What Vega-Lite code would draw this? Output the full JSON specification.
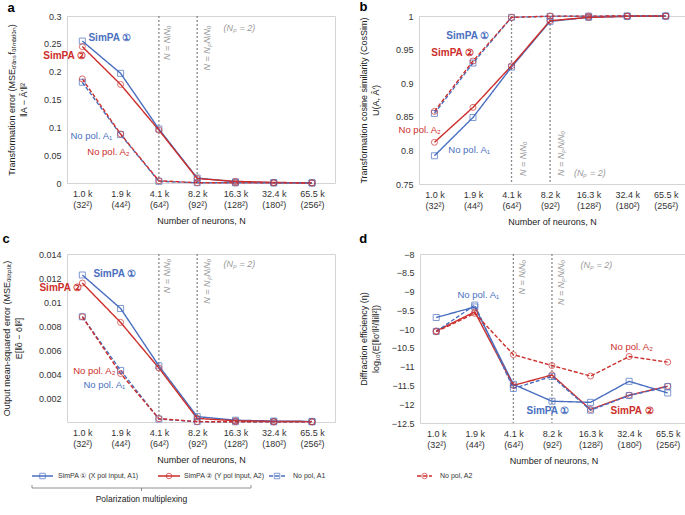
{
  "$schema": "https://vega.github.io/schema/vega-lite/v6.json",
  "padding": {"left": 1, "top": 0, "right": 0, "bottom": 0},
  "config": {
    "font": "Liberation Sans",
    "view": {"stroke": "#d4d4d4", "strokeWidth": 1},
    "axis": {"grid": false, "ticks": false, "domain": false, "labelFontSize": 9, "titleFontSize": 9, "labelColor": "#333", "titleColor": "#222", "titleFontWeight": "normal", "labelOverlap": false},
    "axisQuantitative": {"labelOverlap": false},
    "axisX": {"labelPadding": 6, "labelLineHeight": 11, "titlePadding": 7, "labelAngle": 0},
    "axisY": {"labelPadding": 6, "titlePadding": 15, "titleLineHeight": 12, "labelOverlap": false, "labelBound": false},
    "title": {"anchor": "start", "frame": "bounds", "fontSize": 13, "fontWeight": "bold", "color": "#000"},
    "concat": {"spacing": 22}
  },
  "datasets": {
    "main": [
      {"p":"a","s":"S1","i":0,"v":0.255},{"p":"a","s":"S1","i":1,"v":0.197},{"p":"a","s":"S1","i":2,"v":0.097},{"p":"a","s":"S1","i":3,"v":0.009},{"p":"a","s":"S1","i":4,"v":0.002},{"p":"a","s":"S1","i":5,"v":0.0005},{"p":"a","s":"S1","i":6,"v":0.0002},
      {"p":"a","s":"S2","i":0,"v":0.245},{"p":"a","s":"S2","i":1,"v":0.177},{"p":"a","s":"S2","i":2,"v":0.095},{"p":"a","s":"S2","i":3,"v":0.008},{"p":"a","s":"S2","i":4,"v":0.003},{"p":"a","s":"S2","i":5,"v":0.001},{"p":"a","s":"S2","i":6,"v":0.0003},
      {"p":"a","s":"N1","i":0,"v":0.181},{"p":"a","s":"N1","i":1,"v":0.087},{"p":"a","s":"N1","i":2,"v":0.003},{"p":"a","s":"N1","i":3,"v":0.0005},{"p":"a","s":"N1","i":4,"v":0.0003},{"p":"a","s":"N1","i":5,"v":0.0002},{"p":"a","s":"N1","i":6,"v":0.0001},
      {"p":"a","s":"N2","i":0,"v":0.187},{"p":"a","s":"N2","i":1,"v":0.088},{"p":"a","s":"N2","i":2,"v":0.004},{"p":"a","s":"N2","i":3,"v":0.0006},{"p":"a","s":"N2","i":4,"v":0.0003},{"p":"a","s":"N2","i":5,"v":0.0002},{"p":"a","s":"N2","i":6,"v":0.0001},
      {"p":"b","s":"S1","i":0,"v":0.792},{"p":"b","s":"S1","i":1,"v":0.849},{"p":"b","s":"S1","i":2,"v":0.924},{"p":"b","s":"S1","i":3,"v":0.992},{"p":"b","s":"S1","i":4,"v":0.998},{"p":"b","s":"S1","i":5,"v":0.9995},{"p":"b","s":"S1","i":6,"v":0.9998},
      {"p":"b","s":"S2","i":0,"v":0.812},{"p":"b","s":"S2","i":1,"v":0.864},{"p":"b","s":"S2","i":2,"v":0.926},{"p":"b","s":"S2","i":3,"v":0.993},{"p":"b","s":"S2","i":4,"v":0.998},{"p":"b","s":"S2","i":5,"v":0.9995},{"p":"b","s":"S2","i":6,"v":0.9998},
      {"p":"b","s":"N1","i":0,"v":0.855},{"p":"b","s":"N1","i":1,"v":0.930},{"p":"b","s":"N1","i":2,"v":0.998},{"p":"b","s":"N1","i":3,"v":0.9995},{"p":"b","s":"N1","i":4,"v":0.9998},{"p":"b","s":"N1","i":5,"v":1.0},{"p":"b","s":"N1","i":6,"v":1.0},
      {"p":"b","s":"N2","i":0,"v":0.858},{"p":"b","s":"N2","i":1,"v":0.933},{"p":"b","s":"N2","i":2,"v":0.998},{"p":"b","s":"N2","i":3,"v":0.9998},{"p":"b","s":"N2","i":4,"v":0.9998},{"p":"b","s":"N2","i":5,"v":1.0},{"p":"b","s":"N2","i":6,"v":1.0},
      {"p":"c","s":"S1","i":0,"v":0.01225},{"p":"c","s":"S1","i":1,"v":0.00946},{"p":"c","s":"S1","i":2,"v":0.00468},{"p":"c","s":"S1","i":3,"v":0.00045},{"p":"c","s":"S1","i":4,"v":0.00015},{"p":"c","s":"S1","i":5,"v":0.00008},{"p":"c","s":"S1","i":6,"v":0.00005},
      {"p":"c","s":"S2","i":0,"v":0.01158},{"p":"c","s":"S2","i":1,"v":0.0083},{"p":"c","s":"S2","i":2,"v":0.0045},{"p":"c","s":"S2","i":3,"v":0.0003},{"p":"c","s":"S2","i":4,"v":0.0001},{"p":"c","s":"S2","i":5,"v":0.00005},{"p":"c","s":"S2","i":6,"v":0.00003},
      {"p":"c","s":"N1","i":0,"v":0.00877},{"p":"c","s":"N1","i":1,"v":0.0043},{"p":"c","s":"N1","i":2,"v":0.00025},{"p":"c","s":"N1","i":3,"v":0.00003},{"p":"c","s":"N1","i":4,"v":0.00002},{"p":"c","s":"N1","i":5,"v":0.00001},{"p":"c","s":"N1","i":6,"v":0.00001},
      {"p":"c","s":"N2","i":0,"v":0.00877},{"p":"c","s":"N2","i":1,"v":0.00404},{"p":"c","s":"N2","i":2,"v":0.00028},{"p":"c","s":"N2","i":3,"v":0.00003},{"p":"c","s":"N2","i":4,"v":0.00002},{"p":"c","s":"N2","i":5,"v":0.00001},{"p":"c","s":"N2","i":6,"v":0.00001},
      {"p":"d","s":"S1","i":0,"v":-9.69},{"p":"d","s":"S1","i":1,"v":-9.41},{"p":"d","s":"S1","i":2,"v":-11.47},{"p":"d","s":"S1","i":3,"v":-11.92},{"p":"d","s":"S1","i":4,"v":-11.95},{"p":"d","s":"S1","i":5,"v":-11.39},{"p":"d","s":"S1","i":6,"v":-11.7},
      {"p":"d","s":"S2","i":0,"v":-10.05},{"p":"d","s":"S2","i":1,"v":-9.54},{"p":"d","s":"S2","i":2,"v":-11.5},{"p":"d","s":"S2","i":3,"v":-11.22},{"p":"d","s":"S2","i":4,"v":-12.14},{"p":"d","s":"S2","i":5,"v":-11.76},{"p":"d","s":"S2","i":6,"v":-11.52},
      {"p":"d","s":"N1","i":0,"v":-10.06},{"p":"d","s":"N1","i":1,"v":-9.36},{"p":"d","s":"N1","i":2,"v":-11.58},{"p":"d","s":"N1","i":3,"v":-11.26},{"p":"d","s":"N1","i":4,"v":-12.16},{"p":"d","s":"N1","i":5,"v":-11.77},{"p":"d","s":"N1","i":6,"v":-11.53},
      {"p":"d","s":"N2","i":0,"v":-10.07},{"p":"d","s":"N2","i":1,"v":-9.58},{"p":"d","s":"N2","i":2,"v":-10.68},{"p":"d","s":"N2","i":3,"v":-10.97},{"p":"d","s":"N2","i":4,"v":-11.25},{"p":"d","s":"N2","i":5,"v":-10.73},{"p":"d","s":"N2","i":6,"v":-10.88}
    ],
    "labels": [
      {"p":"a","s":"S1","x":0.16,"y":0.26,"t":"SimPA ①"},
      {"p":"a","s":"S2","x":-1.02,"y":0.228,"t":"SimPA ②"},
      {"p":"a","s":"N1","x":-0.31,"y":0.084,"t":"No pol. A₁"},
      {"p":"a","s":"N2","x":0.13,"y":0.055,"t":"No pol. A₂"},
      {"p":"b","s":"S1","x":0.31,"y":0.97,"t":"SimPA ①"},
      {"p":"b","s":"S2","x":-0.08,"y":0.945,"t":"SimPA ②"},
      {"p":"b","s":"N2","x":-0.93,"y":0.831,"t":"No pol. A₂"},
      {"p":"b","s":"N1","x":0.36,"y":0.8,"t":"No pol. A₁"},
      {"p":"c","s":"S1","x":0.29,"y":0.01233,"t":"SimPA ①"},
      {"p":"c","s":"S2","x":-1.12,"y":0.01117,"t":"SimPA ②"},
      {"p":"c","s":"N2","x":-0.24,"y":0.00425,"t":"No pol. A₂"},
      {"p":"c","s":"N1","x":0.03,"y":0.00309,"t":"No pol. A₁"},
      {"p":"d","s":"N1","x":0.55,"y":-9.09,"t":"No pol. A₁"},
      {"p":"d","s":"N2","x":4.52,"y":-10.48,"t":"No pol. A₂"},
      {"p":"d","s":"S1","x":2.34,"y":-12.18,"t":"SimPA ①"},
      {"p":"d","s":"S2","x":4.52,"y":-12.18,"t":"SimPA ②"}
    ],
    "rules": [
      {"p":"a","x":2},{"p":"a","x":3},{"p":"b","x":2},{"p":"b","x":3},{"p":"c","x":2},{"p":"c","x":3},{"p":"d","x":2},{"p":"d","x":3}
    ],
    "vtext": [
      {"p":"a","x":2.12,"y":0.283,"t":"N = NᵢNₒ"},
      {"p":"a","x":3.14,"y":0.283,"t":"N = NₚNᵢNₒ"},
      {"p":"c","x":2.12,"y":0.0136,"t":"N = NᵢNₒ"},
      {"p":"c","x":3.14,"y":0.0136,"t":"N = NₚNᵢNₒ"},
      {"p":"d","x":2.12,"y":-8.16,"t":"N = NᵢNₒ"},
      {"p":"d","x":3.14,"y":-8.16,"t":"N = NₚNᵢNₒ"}
    ],
    "vtextb": [
      {"p":"b","x":2.2,"y":0.762,"t":"N = NᵢNₒ"},
      {"p":"b","x":3.18,"y":0.762,"t":"N = NₚNᵢNₒ"}
    ],
    "np": [
      {"p":"a","x":3.69,"y":0.278,"t":"(Nₚ = 2)"},
      {"p":"b","x":3.62,"y":0.767,"t":"(Nₚ = 2)"},
      {"p":"c","x":3.69,"y":0.01317,"t":"(Nₚ = 2)"},
      {"p":"d","x":3.74,"y":-8.29,"t":"(Nₚ = 2)"}
    ],
    "legend": [
      {"s":"S1","a":32,"b":53,"m":42.5,"tx":58,"t":"SimPA ① (X pol input, A1)"},
      {"s":"S2","a":158,"b":180,"m":169,"tx":184,"t":"SimPA ② (Y pol input, A2)"},
      {"s":"N1","a":269,"b":285,"m":277,"tx":293,"t":"No pol, A1"},
      {"s":"N2","a":417,"b":432,"m":424.5,"tx":440,"t":"No pol, A2"}
    ],
    "bracket": [
      {"a":32,"b":251,"mid":141.5,"t":"Polarization multiplexing"}
    ]
  },
  "vconcat": [
    {
      "hconcat": [
        {
          "title": {"text": "a", "offset": -3},
          "width": 268, "height": 167,
          "encoding": {
            "y": {"type": "quantitative", "scale": {"domain": [0, 0.3], "nice": false, "zero": false}, "axis": {"values": [0,0.05,0.1,0.15,0.2,0.25,0.3], "format": "~g", "labelOverlap": false}, "title": ["Transformation error (MSEₜᵣₐₙₛfₒᵣₘₐₜᵢₒₙ)", "‖A − Â′‖²"]}
          },
          "layer": [
            {"data": {"name": "rules"}, "transform": [{"filter": "datum.p == 'a'"}], "mark": {"type": "rule", "color": "#8a8a8a", "strokeDash": [2, 2], "strokeWidth": 1.3}, "encoding": {"x": {"field": "x", "type": "quantitative"}, "y": null}},
            {"data": {"name": "main"}, "transform": [{"filter": "datum.p == 'a'"}], "mark": {"type": "line", "strokeWidth": 1.4}, "encoding": {
              "x": {"field": "i", "type": "quantitative", "scale": {"domain": [-0.4, 6.6], "nice": false, "zero": false}, "axis": {"values": [0,1,2,3,4,5,6], "labelExpr": "[['1.0 k','(32²)'],['1.9 k','(44²)'],['4.1 k','(64²)'],['8.2 k','(92²)'],['16.3 k','(128²)'],['32.4 k','(180²)'],['65.5 k','(256²)']][datum.value]"}, "title": "Number of neurons, N"},
              "y": {"field": "v"},
              "color": {"field": "s", "type": "nominal", "scale": {"domain": ["S1","S2","N1","N2"], "range": ["#4a6fc0","#cc2e2b","#4a6fc0","#cc2e2b"]}, "legend": null},
              "strokeDash": {"field": "s", "type": "nominal", "scale": {"domain": ["S1","S2","N1","N2"], "range": [[1,0],[1,0],[4,2],[4,2]]}, "legend": null}
            }},
            {"data": {"name": "main"}, "transform": [{"filter": "datum.p == 'a'"}], "mark": {"type": "point", "filled": false, "size": 36, "strokeWidth": 1}, "encoding": {
              "x": {"field": "i", "type": "quantitative"},
              "y": {"field": "v"},
              "color": {"field": "s", "type": "nominal", "legend": null},
              "shape": {"field": "s", "type": "nominal", "scale": {"domain": ["S1","S2","N1","N2"], "range": ["square","circle","square","circle"]}, "legend": null}
            }},
            {"data": {"name": "labels"}, "transform": [{"filter": "datum.p == 'a' && (datum.s == 'S1' || datum.s == 'S2')"}], "mark": {"type": "text", "align": "left", "baseline": "middle", "fontSize": 10, "fontWeight": "bold"}, "encoding": {"x": {"field": "x", "type": "quantitative"}, "y": {"field": "y"}, "text": {"field": "t"}, "color": {"field": "s", "type": "nominal", "legend": null}}},
            {"data": {"name": "labels"}, "transform": [{"filter": "datum.p == 'a' && (datum.s == 'N1' || datum.s == 'N2')"}], "mark": {"type": "text", "align": "left", "baseline": "middle", "fontSize": 9.5}, "encoding": {"x": {"field": "x", "type": "quantitative"}, "y": {"field": "y"}, "text": {"field": "t"}, "color": {"field": "s", "type": "nominal", "legend": null}}},
            {"data": {"name": "vtext"}, "transform": [{"filter": "datum.p == 'a'"}], "mark": {"type": "text", "angle": 270, "align": "right", "baseline": "top", "fontSize": 9, "fontStyle": "italic", "color": "#999"}, "encoding": {"x": {"field": "x", "type": "quantitative"}, "y": {"field": "y"}, "text": {"field": "t"}}},
            {"data": {"name": "np"}, "transform": [{"filter": "datum.p == 'a'"}], "mark": {"type": "text", "align": "left", "baseline": "middle", "fontSize": 9, "fontStyle": "italic", "color": "#999"}, "encoding": {"x": {"field": "x", "type": "quantitative"}, "y": {"field": "y"}, "text": {"field": "t"}}}
          ]
        },
        {
          "title": {"text": "b", "offset": -3},
          "width": 266, "height": 168,
          "encoding": {
            "y": {"type": "quantitative", "scale": {"domain": [0.75, 1], "nice": false, "zero": false}, "axis": {"values": [0.75,0.8,0.85,0.9,0.95,1], "format": "~g", "labelOverlap": false}, "title": ["Transformation cosine similarity (CosSim)", "U(A, Â′)"]}
          },
          "layer": [
            {"data": {"name": "rules"}, "transform": [{"filter": "datum.p == 'b'"}], "mark": {"type": "rule", "color": "#8a8a8a", "strokeDash": [2, 2], "strokeWidth": 1.3}, "encoding": {"x": {"field": "x", "type": "quantitative"}, "y": null}},
            {"data": {"name": "main"}, "transform": [{"filter": "datum.p == 'b'"}], "mark": {"type": "line", "strokeWidth": 1.4}, "encoding": {
              "x": {"field": "i", "type": "quantitative", "scale": {"domain": [-0.4, 6.5], "nice": false, "zero": false}, "axis": {"values": [0,1,2,3,4,5,6], "labelExpr": "[['1.0 k','(32²)'],['1.9 k','(44²)'],['4.1 k','(64²)'],['8.2 k','(92²)'],['16.3 k','(128²)'],['32.4 k','(180²)'],['65.5 k','(256²)']][datum.value]"}, "title": "Number of neurons, N"},
              "y": {"field": "v"},
              "color": {"field": "s", "type": "nominal", "scale": {"domain": ["S1","S2","N1","N2"], "range": ["#4a6fc0","#cc2e2b","#4a6fc0","#cc2e2b"]}, "legend": null},
              "strokeDash": {"field": "s", "type": "nominal", "scale": {"domain": ["S1","S2","N1","N2"], "range": [[1,0],[1,0],[4,2],[4,2]]}, "legend": null}
            }},
            {"data": {"name": "main"}, "transform": [{"filter": "datum.p == 'b'"}], "mark": {"type": "point", "filled": false, "size": 36, "strokeWidth": 1}, "encoding": {
              "x": {"field": "i", "type": "quantitative"},
              "y": {"field": "v"},
              "color": {"field": "s", "type": "nominal", "legend": null},
              "shape": {"field": "s", "type": "nominal", "scale": {"domain": ["S1","S2","N1","N2"], "range": ["square","circle","square","circle"]}, "legend": null}
            }},
            {"data": {"name": "labels"}, "transform": [{"filter": "datum.p == 'b' && (datum.s == 'S1' || datum.s == 'S2')"}], "mark": {"type": "text", "align": "left", "baseline": "middle", "fontSize": 10, "fontWeight": "bold"}, "encoding": {"x": {"field": "x", "type": "quantitative"}, "y": {"field": "y"}, "text": {"field": "t"}, "color": {"field": "s", "type": "nominal", "legend": null}}},
            {"data": {"name": "labels"}, "transform": [{"filter": "datum.p == 'b' && (datum.s == 'N1' || datum.s == 'N2')"}], "mark": {"type": "text", "align": "left", "baseline": "middle", "fontSize": 9.5}, "encoding": {"x": {"field": "x", "type": "quantitative"}, "y": {"field": "y"}, "text": {"field": "t"}, "color": {"field": "s", "type": "nominal", "legend": null}}},
            {"data": {"name": "vtextb"}, "transform": [{"filter": "datum.p == 'b'"}], "mark": {"type": "text", "angle": 270, "align": "left", "baseline": "top", "fontSize": 9, "fontStyle": "italic", "color": "#999"}, "encoding": {"x": {"field": "x", "type": "quantitative"}, "y": {"field": "y"}, "text": {"field": "t"}}},
            {"data": {"name": "np"}, "transform": [{"filter": "datum.p == 'b'"}], "mark": {"type": "text", "align": "left", "baseline": "middle", "fontSize": 9, "fontStyle": "italic", "color": "#999"}, "encoding": {"x": {"field": "x", "type": "quantitative"}, "y": {"field": "y"}, "text": {"field": "t"}}}
          ]
        }
      ]
    },
    {
      "hconcat": [
        {
          "title": {"text": "c", "offset": 4},
          "width": 268, "height": 168,
          "encoding": {
            "y": {"type": "quantitative", "scale": {"domain": [0, 0.014], "nice": false, "zero": false}, "axis": {"values": [0.002,0.004,0.006,0.008,0.01,0.012,0.014], "format": "~g", "labelOverlap": false}, "title": ["Output mean-squared error (MSEₒᵤₜₚᵤₜ)", "E[‖ô − ō‖²]"]}
          },
          "layer": [
            {"data": {"name": "rules"}, "transform": [{"filter": "datum.p == 'c'"}], "mark": {"type": "rule", "color": "#8a8a8a", "strokeDash": [2, 2], "strokeWidth": 1.3}, "encoding": {"x": {"field": "x", "type": "quantitative"}, "y": null}},
            {"data": {"name": "main"}, "transform": [{"filter": "datum.p == 'c'"}], "mark": {"type": "line", "strokeWidth": 1.4}, "encoding": {
              "x": {"field": "i", "type": "quantitative", "scale": {"domain": [-0.4, 6.6], "nice": false, "zero": false}, "axis": {"values": [0,1,2,3,4,5,6], "labelExpr": "[['1.0 k','(32²)'],['1.9 k','(44²)'],['4.1 k','(64²)'],['8.2 k','(92²)'],['16.3 k','(128²)'],['32.4 k','(180²)'],['65.5 k','(256²)']][datum.value]"}, "title": "Number of neurons, N"},
              "y": {"field": "v"},
              "color": {"field": "s", "type": "nominal", "scale": {"domain": ["S1","S2","N1","N2"], "range": ["#4a6fc0","#cc2e2b","#4a6fc0","#cc2e2b"]}, "legend": null},
              "strokeDash": {"field": "s", "type": "nominal", "scale": {"domain": ["S1","S2","N1","N2"], "range": [[1,0],[1,0],[4,2],[4,2]]}, "legend": null}
            }},
            {"data": {"name": "main"}, "transform": [{"filter": "datum.p == 'c'"}], "mark": {"type": "point", "filled": false, "size": 36, "strokeWidth": 1}, "encoding": {
              "x": {"field": "i", "type": "quantitative"},
              "y": {"field": "v"},
              "color": {"field": "s", "type": "nominal", "legend": null},
              "shape": {"field": "s", "type": "nominal", "scale": {"domain": ["S1","S2","N1","N2"], "range": ["square","circle","square","circle"]}, "legend": null}
            }},
            {"data": {"name": "labels"}, "transform": [{"filter": "datum.p == 'c' && (datum.s == 'S1' || datum.s == 'S2')"}], "mark": {"type": "text", "align": "left", "baseline": "middle", "fontSize": 10, "fontWeight": "bold"}, "encoding": {"x": {"field": "x", "type": "quantitative"}, "y": {"field": "y"}, "text": {"field": "t"}, "color": {"field": "s", "type": "nominal", "legend": null}}},
            {"data": {"name": "labels"}, "transform": [{"filter": "datum.p == 'c' && (datum.s == 'N1' || datum.s == 'N2')"}], "mark": {"type": "text", "align": "left", "baseline": "middle", "fontSize": 9.5}, "encoding": {"x": {"field": "x", "type": "quantitative"}, "y": {"field": "y"}, "text": {"field": "t"}, "color": {"field": "s", "type": "nominal", "legend": null}}},
            {"data": {"name": "vtext"}, "transform": [{"filter": "datum.p == 'c'"}], "mark": {"type": "text", "angle": 270, "align": "right", "baseline": "top", "fontSize": 9, "fontStyle": "italic", "color": "#999"}, "encoding": {"x": {"field": "x", "type": "quantitative"}, "y": {"field": "y"}, "text": {"field": "t"}}},
            {"data": {"name": "np"}, "transform": [{"filter": "datum.p == 'c'"}], "mark": {"type": "text", "align": "left", "baseline": "middle", "fontSize": 9, "fontStyle": "italic", "color": "#999"}, "encoding": {"x": {"field": "x", "type": "quantitative"}, "y": {"field": "y"}, "text": {"field": "t"}}}
          ]
        },
        {
          "title": {"text": "d", "offset": 4},
          "width": 267, "height": 169,
          "encoding": {
            "y": {"type": "quantitative", "scale": {"domain": [-12.5, -8], "nice": false, "zero": false}, "axis": {"values": [-12.5,-12,-11.5,-11,-10.5,-10,-9.5,-9,-8.5,-8], "format": "~g", "labelOverlap": false, "titlePadding": 11}, "title": ["Diffraction efficiency (η)", "log₁₀(E[‖o′‖²/‖i‖²])"]}
          },
          "layer": [
            {"data": {"name": "rules"}, "transform": [{"filter": "datum.p == 'd'"}], "mark": {"type": "rule", "color": "#8a8a8a", "strokeDash": [2, 2], "strokeWidth": 1.3}, "encoding": {"x": {"field": "x", "type": "quantitative"}, "y": null}},
            {"data": {"name": "main"}, "transform": [{"filter": "datum.p == 'd'"}], "mark": {"type": "line", "strokeWidth": 1.4}, "encoding": {
              "x": {"field": "i", "type": "quantitative", "scale": {"domain": [-0.42, 6.5], "nice": false, "zero": false}, "axis": {"values": [0,1,2,3,4,5,6], "labelExpr": "[['1.0 k','(32²)'],['1.9 k','(44²)'],['4.1 k','(64²)'],['8.2 k','(92²)'],['16.3 k','(128²)'],['32.4 k','(180²)'],['65.5 k','(256²)']][datum.value]"}, "title": "Number of neurons, N"},
              "y": {"field": "v"},
              "color": {"field": "s", "type": "nominal", "scale": {"domain": ["S1","S2","N1","N2"], "range": ["#4a6fc0","#cc2e2b","#4a6fc0","#cc2e2b"]}, "legend": null},
              "strokeDash": {"field": "s", "type": "nominal", "scale": {"domain": ["S1","S2","N1","N2"], "range": [[1,0],[1,0],[4,2],[4,2]]}, "legend": null}
            }},
            {"data": {"name": "main"}, "transform": [{"filter": "datum.p == 'd'"}], "mark": {"type": "point", "filled": false, "size": 36, "strokeWidth": 1}, "encoding": {
              "x": {"field": "i", "type": "quantitative"},
              "y": {"field": "v"},
              "color": {"field": "s", "type": "nominal", "legend": null},
              "shape": {"field": "s", "type": "nominal", "scale": {"domain": ["S1","S2","N1","N2"], "range": ["square","circle","square","circle"]}, "legend": null}
            }},
            {"data": {"name": "labels"}, "transform": [{"filter": "datum.p == 'd' && (datum.s == 'S1' || datum.s == 'S2')"}], "mark": {"type": "text", "align": "left", "baseline": "middle", "fontSize": 10, "fontWeight": "bold"}, "encoding": {"x": {"field": "x", "type": "quantitative"}, "y": {"field": "y"}, "text": {"field": "t"}, "color": {"field": "s", "type": "nominal", "legend": null}}},
            {"data": {"name": "labels"}, "transform": [{"filter": "datum.p == 'd' && (datum.s == 'N1' || datum.s == 'N2')"}], "mark": {"type": "text", "align": "left", "baseline": "middle", "fontSize": 9.5}, "encoding": {"x": {"field": "x", "type": "quantitative"}, "y": {"field": "y"}, "text": {"field": "t"}, "color": {"field": "s", "type": "nominal", "legend": null}}},
            {"data": {"name": "vtext"}, "transform": [{"filter": "datum.p == 'd'"}], "mark": {"type": "text", "angle": 270, "align": "right", "baseline": "top", "fontSize": 9, "fontStyle": "italic", "color": "#999"}, "encoding": {"x": {"field": "x", "type": "quantitative"}, "y": {"field": "y"}, "text": {"field": "t"}}},
            {"data": {"name": "np"}, "transform": [{"filter": "datum.p == 'd'"}], "mark": {"type": "text", "align": "left", "baseline": "middle", "fontSize": 9, "fontStyle": "italic", "color": "#999"}, "encoding": {"x": {"field": "x", "type": "quantitative"}, "y": {"field": "y"}, "text": {"field": "t"}}}
          ]
        }
      ]
    },
    {
      "width": 618, "height": 30,
      "view": {"stroke": null},
      "layer": [
        {"data": {"name": "legend"}, "mark": {"type": "rule", "strokeWidth": 1.4}, "encoding": {
          "x": {"field": "a", "type": "quantitative", "scale": {"domain": [67, 685], "nice": false, "zero": false}, "axis": null},
          "x2": {"field": "b"},
          "y": {"datum": 26, "type": "quantitative", "scale": {"domain": [0, 30], "nice": false, "zero": false}, "axis": null},
          "color": {"field": "s", "type": "nominal", "scale": {"domain": ["S1","S2","N1","N2"], "range": ["#4a6fc0","#cc2e2b","#4a6fc0","#cc2e2b"]}, "legend": null},
          "strokeDash": {"field": "s", "type": "nominal", "scale": {"domain": ["S1","S2","N1","N2"], "range": [[1,0],[1,0],[3,2],[3,2]]}, "legend": null}
        }},
        {"data": {"name": "legend"}, "mark": {"type": "point", "filled": false, "size": 30, "strokeWidth": 1}, "encoding": {
          "x": {"field": "m", "type": "quantitative"},
          "y": {"datum": 26, "type": "quantitative"},
          "color": {"field": "s", "type": "nominal", "legend": null},
          "shape": {"field": "s", "type": "nominal", "scale": {"domain": ["S1","S2","N1","N2"], "range": ["square","circle","square","circle"]}, "legend": null}
        }},
        {"data": {"name": "legend"}, "mark": {"type": "text", "align": "left", "baseline": "middle", "fontSize": 7, "color": "#333"}, "encoding": {
          "x": {"field": "tx", "type": "quantitative"},
          "y": {"datum": 26, "type": "quantitative"},
          "text": {"field": "t"}
        }},
        {"data": {"name": "bracket"}, "mark": {"type": "rule", "color": "#777", "strokeWidth": 0.8}, "encoding": {
          "x": {"field": "a", "type": "quantitative"}, "x2": {"field": "b"},
          "y": {"datum": 14, "type": "quantitative"}
        }},
        {"data": {"name": "bracket"}, "mark": {"type": "rule", "color": "#777", "strokeWidth": 0.8}, "encoding": {
          "x": {"field": "a", "type": "quantitative"},
          "y": {"datum": 14, "type": "quantitative"}, "y2": {"datum": 17}
        }},
        {"data": {"name": "bracket"}, "mark": {"type": "rule", "color": "#777", "strokeWidth": 0.8}, "encoding": {
          "x": {"field": "b", "type": "quantitative"},
          "y": {"datum": 14, "type": "quantitative"}, "y2": {"datum": 17}
        }},
        {"data": {"name": "bracket"}, "mark": {"type": "rule", "color": "#777", "strokeWidth": 0.8}, "encoding": {
          "x": {"field": "mid", "type": "quantitative"},
          "y": {"datum": 11, "type": "quantitative"}, "y2": {"datum": 14}
        }},
        {"data": {"name": "bracket"}, "mark": {"type": "text", "align": "center", "baseline": "middle", "fontSize": 8.5, "color": "#222"}, "encoding": {
          "x": {"field": "mid", "type": "quantitative"},
          "y": {"datum": 3, "type": "quantitative"},
          "text": {"field": "t"}
        }}
      ]
    }
  ],
  "spacing": 5
}
